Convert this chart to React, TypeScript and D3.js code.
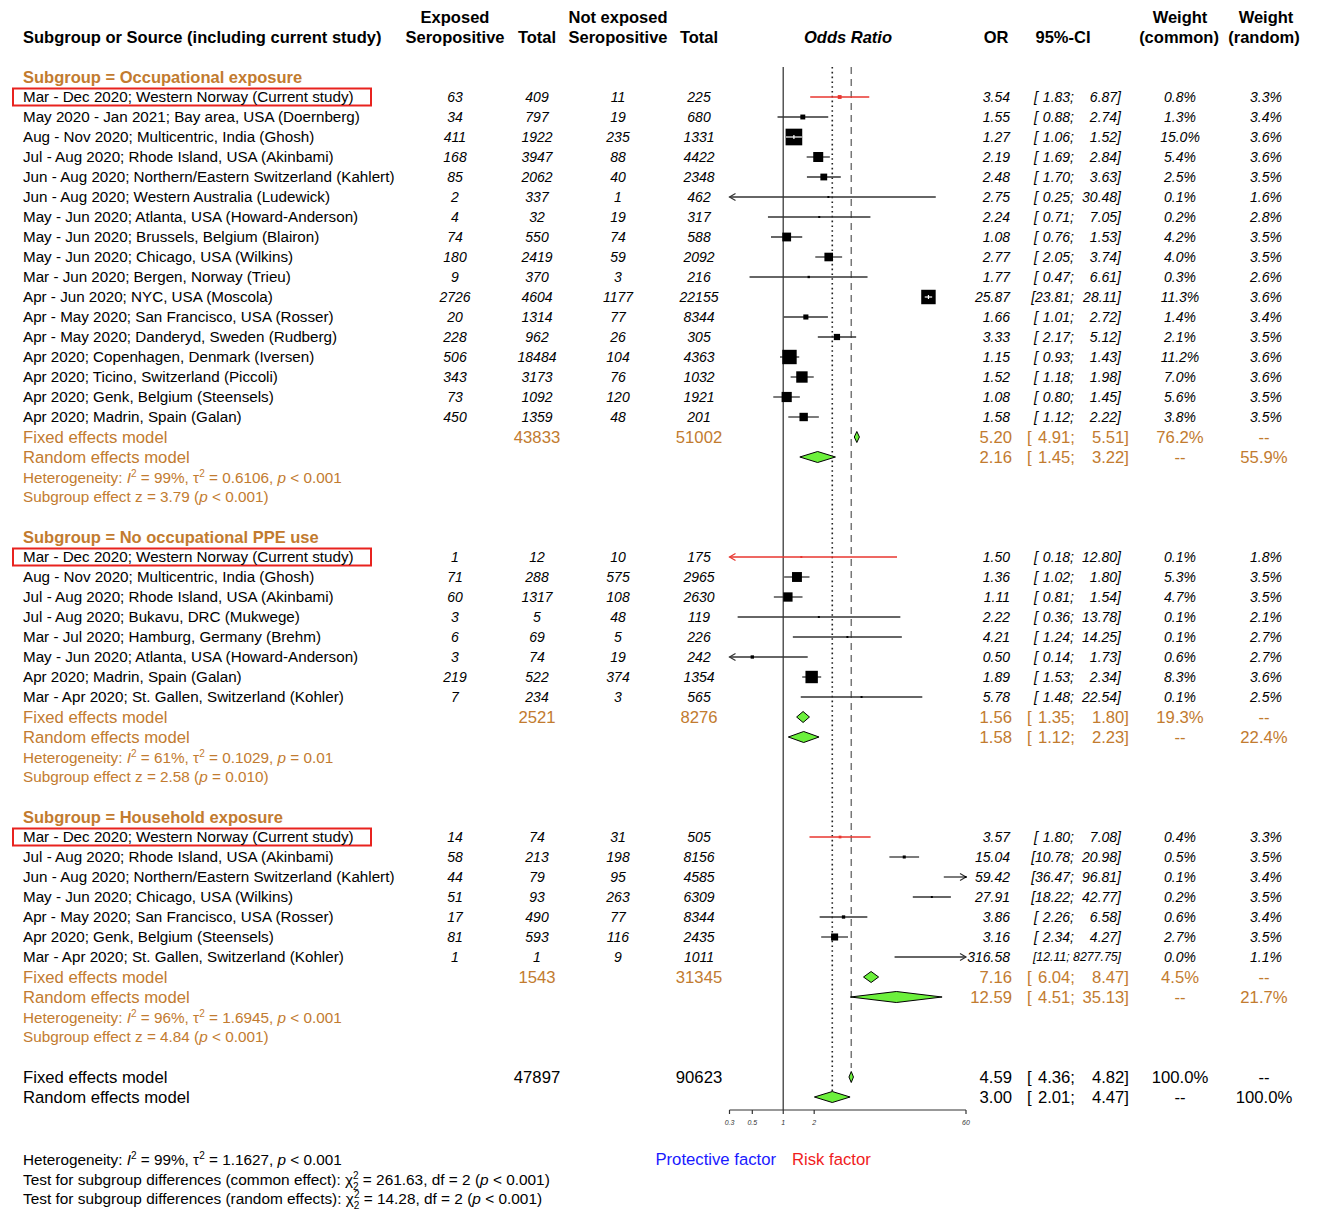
import * as d3 from "d3"

const FONT = "'Liberation Sans', Arial, Helvetica, sans-serif"
const ORANGE = "#c27b2f"
const RED = "#e8362f"
const GREEN = "#6cf03c"

// ---- data ----
const subgroupNames = ["Occupational exposure", "No occupational PPE use", "Household exposure"]

const occLabels = [
  "Mar - Dec 2020; Western Norway (Current study)",
  "May 2020 - Jan 2021; Bay area, USA (Doernberg)",
  "Aug - Nov 2020; Multicentric, India (Ghosh)",
  "Jul - Aug 2020; Rhode Island, USA (Akinbami)",
  "Jun - Aug 2020; Northern/Eastern Switzerland (Kahlert)",
  "Jun - Aug 2020; Western Australia (Ludewick)",
  "May - Jun 2020; Atlanta, USA (Howard-Anderson)",
  "May - Jun 2020; Brussels, Belgium (Blairon)",
  "May - Jun 2020; Chicago, USA (Wilkins)",
  "Mar - Jun 2020; Bergen, Norway (Trieu)",
  "Apr - Jun 2020; NYC, USA (Moscola)",
  "Apr - May 2020; San Francisco, USA (Rosser)",
  "Apr - May 2020; Danderyd, Sweden (Rudberg)",
  "Apr 2020; Copenhagen, Denmark (Iversen)",
  "Apr 2020; Ticino, Switzerland (Piccoli)",
  "Apr 2020; Genk, Belgium (Steensels)",
  "Apr 2020; Madrin, Spain (Galan)",
]
const occCounts = [
  [63, 409, 11, 225], [34, 797, 19, 680], [411, 1922, 235, 1331], [168, 3947, 88, 4422],
  [85, 2062, 40, 2348], [2, 337, 1, 462], [4, 32, 19, 317], [74, 550, 74, 588],
  [180, 2419, 59, 2092], [9, 370, 3, 216], [2726, 4604, 1177, 22155], [20, 1314, 77, 8344],
  [228, 962, 26, 305], [506, 18484, 104, 4363], [343, 3173, 76, 1032], [73, 1092, 120, 1921],
  [450, 1359, 48, 201],
]
const occOR = [
  [3.54, 1.83, 6.87], [1.55, 0.88, 2.74], [1.27, 1.06, 1.52], [2.19, 1.69, 2.84],
  [2.48, 1.7, 3.63], [2.75, 0.25, 30.48], [2.24, 0.71, 7.05], [1.08, 0.76, 1.53],
  [2.77, 2.05, 3.74], [1.77, 0.47, 6.61], [25.87, 23.81, 28.11], [1.66, 1.01, 2.72],
  [3.33, 2.17, 5.12], [1.15, 0.93, 1.43], [1.52, 1.18, 1.98], [1.08, 0.8, 1.45],
  [1.58, 1.12, 2.22],
]
const occWeights = [
  [0.8, 3.3], [1.3, 3.4], [15.0, 3.6], [5.4, 3.6], [2.5, 3.5], [0.1, 1.6], [0.2, 2.8],
  [4.2, 3.5], [4.0, 3.5], [0.3, 2.6], [11.3, 3.6], [1.4, 3.4], [2.1, 3.5], [11.2, 3.6],
  [7.0, 3.6], [5.6, 3.5], [3.8, 3.5],
]

const ppeLabels = [
  "Mar - Dec 2020; Western Norway (Current study)",
  "Aug - Nov 2020; Multicentric, India (Ghosh)",
  "Jul - Aug 2020; Rhode Island, USA (Akinbami)",
  "Jul - Aug 2020; Bukavu, DRC (Mukwege)",
  "Mar - Jul 2020; Hamburg, Germany (Brehm)",
  "May - Jun 2020; Atlanta, USA (Howard-Anderson)",
  "Apr 2020; Madrin, Spain (Galan)",
  "Mar - Apr 2020; St. Gallen, Switzerland (Kohler)",
]
const ppeCounts = [
  [1, 12, 10, 175], [71, 288, 575, 2965], [60, 1317, 108, 2630], [3, 5, 48, 119],
  [6, 69, 5, 226], [3, 74, 19, 242], [219, 522, 374, 1354], [7, 234, 3, 565],
]
const ppeOR = [
  [1.5, 0.18, 12.8], [1.36, 1.02, 1.8], [1.11, 0.81, 1.54], [2.22, 0.36, 13.78],
  [4.21, 1.24, 14.25], [0.5, 0.14, 1.73], [1.89, 1.53, 2.34], [5.78, 1.48, 22.54],
]
const ppeWeights = [
  [0.1, 1.8], [5.3, 3.5], [4.7, 3.5], [0.1, 2.1], [0.1, 2.7], [0.6, 2.7], [8.3, 3.6], [0.1, 2.5],
]

const homeLabels = [
  "Mar - Dec 2020; Western Norway (Current study)",
  "Jul - Aug 2020; Rhode Island, USA (Akinbami)",
  "Jun - Aug 2020; Northern/Eastern Switzerland (Kahlert)",
  "May - Jun 2020; Chicago, USA (Wilkins)",
  "Apr - May 2020; San Francisco, USA (Rosser)",
  "Apr 2020; Genk, Belgium (Steensels)",
  "Mar - Apr 2020; St. Gallen, Switzerland (Kohler)",
]
const homeCounts = [
  [14, 74, 31, 505], [58, 213, 198, 8156], [44, 79, 95, 4585], [51, 93, 263, 6309],
  [17, 490, 77, 8344], [81, 593, 116, 2435], [1, 1, 9, 1011],
]
const homeOR = [
  [3.57, 1.8, 7.08], [15.04, 10.78, 20.98], [59.42, 36.47, 96.81], [27.91, 18.22, 42.77],
  [3.86, 2.26, 6.58], [3.16, 2.34, 4.27], [316.58, 12.11, 8277.75],
]
const homeWeights = [
  [0.4, 3.3], [0.5, 3.5], [0.1, 3.4], [0.2, 3.5], [0.6, 3.4], [2.7, 3.5], [0.0, 1.1],
]

const subgroupTotals = [[43833, 51002], [2521, 8276], [1543, 31345]]
const subgroupFixed = [[5.2, 4.91, 5.51], [1.56, 1.35, 1.8], [7.16, 6.04, 8.47]]
const subgroupRandom = [[2.16, 1.45, 3.22], [1.58, 1.12, 2.23], [12.59, 4.51, 35.13]]
const subgroupWeights = [[76.2, 55.9], [19.3, 22.4], [4.5, 21.7]]
const subgroupHet = [["99%", "0.6106", "< 0.001"], ["61%", "0.1029", "= 0.01"], ["96%", "1.6945", "< 0.001"]]
const subgroupZ = [["3.79", "< 0.001"], ["2.58", "= 0.010"], ["4.84", "< 0.001"]]

const overallTotals = [47897, 90623]
const overallFixed = [4.59, 4.36, 4.82]
const overallRandom = [3.0, 2.01, 4.47]
const overallHet = ["99%", "1.1627", "< 0.001"]
const subgroupTests = [["common effect", "261.63"], ["random effects", "14.28"]]

const axisTicks = [0.3, 0.5, 1, 2, 60]

// ---- layout ----
const x = d3.scaleLog().domain([0.3, 60]).range([729.5, 966])
const row = d3.scaleLinear().domain([0, 1]).range([97, 117])
const f2 = d3.format(".2f")
const fw = (v: number) => d3.format(".1f")(v) + "%"

const colE = 455, colET = 537, colN = 618, colNT = 699
const colOR = 1010, colW1 = 1180, colW2 = 1266

const groups = [
  { labels: occLabels, counts: occCounts, or: occOR, w: occWeights },
  { labels: ppeLabels, counts: ppeCounts, or: ppeOR, w: ppeWeights },
  { labels: homeLabels, counts: homeCounts, or: homeOR, w: homeWeights },
]

function Txt({ x: tx, y: ty, fs, anchor = "start", children, ...rest }: any) {
  return (
    <text x={tx} y={ty + fs * 0.36} fontSize={fs} textAnchor={anchor} fontFamily={FONT} {...rest}>
      {children}
    </text>
  )
}

function Arrow({ x0, y0, dir }: { x0: number; y0: number; dir: number }) {
  return (
    <path
      d={`M${x0 - dir * 6},${y0 - 3.5}L${x0},${y0}L${x0 - dir * 6},${y0 + 3.5}`}
      fill="none"
      stroke="currentColor"
      strokeWidth={1.2}
    />
  )
}

// "[lo; hi]" column: "[" at a fixed left edge, both bounds right-aligned
function CI({ yy, lo, hi, left, mid, right, fs, ...rest }: any) {
  if (hi >= 1000) {
    // very wide interval: squeeze the whole string into the column
    return (
      <Txt x={right} y={yy} fs={fs * 0.88} anchor="end" {...rest}>{`[${f2(lo)}; ${f2(hi)}]`}</Txt>
    )
  }
  return (
    <g>
      {lo >= 10 ? (
        <Txt x={mid} y={yy} fs={fs} anchor="end" {...rest}>{`[${f2(lo)};`}</Txt>
      ) : (
        <>
          <Txt x={left} y={yy} fs={fs} {...rest}>[</Txt>
          <Txt x={mid} y={yy} fs={fs} anchor="end" {...rest}>{`${f2(lo)};`}</Txt>
        </>
      )}
      <Txt x={right} y={yy} fs={fs} anchor="end" {...rest}>{`${f2(hi)}]`}</Txt>
    </g>
  )
}

function Study({ yy, label, c, o, w, current }: any) {
  const col = current ? RED : "#333"
  const [lo, hi] = x.domain()
  const xl = x(Math.max(o[1], lo))
  const xh = x(Math.min(o[2], hi))
  const xc = x(o[0])
  const size = Math.max(2, 4.3 * Math.sqrt(w[0]))
  const shown = o[0] >= lo && o[0] <= hi
  const inside = shown && xc - size / 2 <= xl && xc + size / 2 >= xh
  const fs = 14
  return (
    <g>
      {current && <rect x={13} y={yy - 8.5} width={358} height={17} fill="none" stroke="#e8231f" strokeWidth={2} />}
      <Txt x={23} y={yy} fs={15.2}>{label}</Txt>
      {c.map((v: number, i: number) => (
        <Txt key={i} x={[colE, colET, colN, colNT][i]} y={yy} fs={fs} anchor="middle" fontStyle="italic">{v}</Txt>
      ))}
      <g color={col}>
        <line x1={xl} x2={xh} y1={yy} y2={yy} stroke={col} strokeWidth={1.3} />
        {o[1] < lo && <Arrow x0={xl} y0={yy} dir={-1} />}
        {o[2] > hi && <Arrow x0={xh} y0={yy} dir={1} />}
      </g>
      {shown && (
        <rect x={xc - size / 2} y={yy - size / 2} width={size} height={size} fill={current ? RED : "#000"} />
      )}
      {inside && (
        <g stroke="#fff" strokeWidth={1.2}>
          <line x1={xl} x2={xh} y1={yy} y2={yy} />
          <line x1={xc} x2={xc} y1={yy - 2} y2={yy + 2} />
        </g>
      )}
      <Txt x={colOR} y={yy} fs={fs} anchor="end" fontStyle="italic">{f2(o[0])}</Txt>
      <CI yy={yy} lo={o[1]} hi={o[2]} left={1034} mid={1074} right={1121} fs={fs} fontStyle="italic" />
      <Txt x={colW1} y={yy} fs={fs} anchor="middle" fontStyle="italic">{fw(w[0])}</Txt>
      <Txt x={colW2} y={yy} fs={fs} anchor="middle" fontStyle="italic">{fw(w[1])}</Txt>
    </g>
  )
}

function Summary({ yy, label, totals, o, w, color }: any) {
  const fs = 16.7
  const d = `M${x(o[1])},${yy}L${x(o[0])},${yy - 5.5}L${x(o[2])},${yy}L${x(o[0])},${yy + 5.5}Z`
  return (
    <g fill={color}>
      <Txt x={23} y={yy} fs={fs}>{label}</Txt>
      {totals && <Txt x={colET} y={yy} fs={fs} anchor="middle">{totals[0]}</Txt>}
      {totals && <Txt x={colNT} y={yy} fs={fs} anchor="middle">{totals[1]}</Txt>}
      <path d={d} fill={GREEN} stroke="#000" strokeWidth={1} />
      <Txt x={1012} y={yy} fs={fs} anchor="end">{f2(o[0])}</Txt>
      <CI yy={yy} lo={o[1]} hi={o[2]} left={1027} mid={1075} right={1129} fs={fs} />
      <Txt x={colW1} y={yy} fs={fs} anchor="middle">{w[0]}</Txt>
      <Txt x={colW2 - 2} y={yy} fs={fs} anchor="middle">{w[1]}</Txt>
    </g>
  )
}

function HetText({ yy, h, fill, prefix = "Heterogeneity: " }: any) {
  const fs = 15.3
  return (
    <text x={23} y={yy + fs * 0.36} fontSize={fs} fontFamily={FONT} fill={fill}>
      <tspan>{prefix}</tspan>
      <tspan fontStyle="italic">I</tspan>
      <tspan dy={-6} fontSize={10}>2</tspan>
      <tspan dy={6}>{` = ${h[0]}, τ`}</tspan>
      <tspan dy={-6} fontSize={10}>2</tspan>
      <tspan dy={6}>{` = ${h[1]}, `}</tspan>
      <tspan fontStyle="italic">p</tspan>
      <tspan>{` ${h[2]}`}</tspan>
    </text>
  )
}

export default function App() {
  const items: any[] = []
  let idx = -1
  groups.forEach((g, gi) => {
    const ty = row(idx)
    items.push(
      <Txt key={`t${gi}`} x={23} y={ty} fs={16.5} fontWeight="bold" fill={ORANGE}>
        {`Subgroup = ${subgroupNames[gi]}`}
      </Txt>
    )
    idx++
    g.labels.forEach((lab, i) => {
      items.push(
        <Study key={`s${gi}-${i}`} yy={row(idx)} label={lab} c={g.counts[i]} o={g.or[i]} w={g.w[i]} current={i === 0} />
      )
      idx++
    })
    items.push(
      <Summary key={`f${gi}`} yy={row(idx)} label="Fixed effects model" totals={subgroupTotals[gi]}
        o={subgroupFixed[gi]} w={[fw(subgroupWeights[gi][0]), "--"]} color={ORANGE} />
    )
    idx++
    items.push(
      <Summary key={`r${gi}`} yy={row(idx)} label="Random effects model"
        o={subgroupRandom[gi]} w={["--", fw(subgroupWeights[gi][1])]} color={ORANGE} />
    )
    idx++
    items.push(<HetText key={`h${gi}`} yy={row(idx)} h={subgroupHet[gi]} fill={ORANGE} />)
    idx++
    const zy = row(idx) - 0.5
    items.push(
      <text key={`z${gi}`} x={23} y={zy + 15.3 * 0.36} fontSize={15.3} fontFamily={FONT} fill={ORANGE}>
        <tspan>{`Subgroup effect z = ${subgroupZ[gi][0]} (`}</tspan>
        <tspan fontStyle="italic">p</tspan>
        <tspan>{` ${subgroupZ[gi][1]})`}</tspan>
      </text>
    )
    idx += 2
  })
  const yFixed = row(idx)
  const yRandom = row(idx + 1)
  const axisY = 1110
  const topY = 67

  return (
    <div style={{ position: "absolute", left: 0, top: 0, background: "#fff" }}>
      <svg width={1325} height={1216} style={{ display: "block" }}>
        <rect width={1325} height={1216} fill="#fff" />
        {/* header */}
        <g fontWeight="bold">
          <Txt x={23} y={37} fs={16.5}>Subgroup or Source (including current study)</Txt>
          <Txt x={colE} y={17} fs={16.5} anchor="middle">Exposed</Txt>
          <Txt x={colE} y={37} fs={16.5} anchor="middle">Seropositive</Txt>
          <Txt x={colET} y={37} fs={16.5} anchor="middle">Total</Txt>
          <Txt x={colN} y={17} fs={16.5} anchor="middle">Not exposed</Txt>
          <Txt x={colN} y={37} fs={16.5} anchor="middle">Seropositive</Txt>
          <Txt x={colNT} y={37} fs={16.5} anchor="middle">Total</Txt>
          <Txt x={848} y={37} fs={16.5} anchor="middle" fontStyle="italic">Odds Ratio</Txt>
          <Txt x={996} y={37} fs={16.5} anchor="middle">OR</Txt>
          <Txt x={1063} y={37} fs={16.5} anchor="middle">95%-CI</Txt>
          <Txt x={colW1} y={17} fs={16.5} anchor="middle">Weight</Txt>
          <Txt x={colW1 - 1} y={37} fs={16.5} anchor="middle">(common)</Txt>
          <Txt x={colW2} y={17} fs={16.5} anchor="middle">Weight</Txt>
          <Txt x={colW2 - 2} y={37} fs={16.5} anchor="middle">(random)</Txt>
        </g>

        {/* reference lines */}
        <line x1={x(1)} x2={x(1)} y1={topY} y2={axisY} stroke="#555" strokeWidth={1.5} />
        <line x1={x(overallRandom[0])} x2={x(overallRandom[0])} y1={topY} y2={yRandom - 5}
          stroke="#222" strokeWidth={1.6} strokeDasharray="1.6,3.2" />
        <line x1={x(overallFixed[0])} x2={x(overallFixed[0])} y1={topY} y2={yFixed - 9}
          stroke="#777" strokeWidth={1.5} strokeDasharray="7,5" />

        {items}

        <Summary yy={yFixed} label="Fixed effects model" totals={overallTotals} o={overallFixed}
          w={["100.0%", "--"]} color="#000" />
        <Summary yy={yRandom} label="Random effects model" o={overallRandom}
          w={["--", "100.0%"]} color="#000" />

        {/* axis */}
        <line x1={x(0.3)} x2={x(60)} y1={axisY} y2={axisY} stroke="#333" strokeWidth={1.2} />
        {axisTicks.map((t) => (
          <g key={t}>
            <line x1={x(t)} x2={x(t)} y1={axisY} y2={axisY + 4} stroke="#333" strokeWidth={1.2} />
            <Txt x={x(t)} y={axisY + 12} fs={7} anchor="middle" fontStyle="italic" fill="#333">{t}</Txt>
          </g>
        ))}

        {/* bottom notes */}
        <HetText yy={1159} h={overallHet} fill="#000" />
        {subgroupTests.map((s, i) => {
          const yy = 1179 + i * 19.5
          return (
            <text key={i} x={23} y={yy + 15.4 * 0.36} fontSize={15.4} fontFamily={FONT}>
              <tspan>{`Test for subgroup differences (${s[0]}): χ`}</tspan>
              <tspan dy={-6} fontSize={10}>2</tspan>
              <tspan dx={-5.6} dy={11} fontSize={10}>2</tspan>
              <tspan dy={-5}>{` = ${s[1]}, df = 2 (`}</tspan>
              <tspan fontStyle="italic">p</tspan>
              <tspan>{` < 0.001)`}</tspan>
            </text>
          )
        })}
        <Txt x={776} y={1159} fs={16.7} anchor="end" fill="#1a1aff">Protective factor</Txt>
        <Txt x={792} y={1159} fs={16.7} fill="#f01c1c">Risk factor</Txt>
      </svg>
    </div>
  )
}
